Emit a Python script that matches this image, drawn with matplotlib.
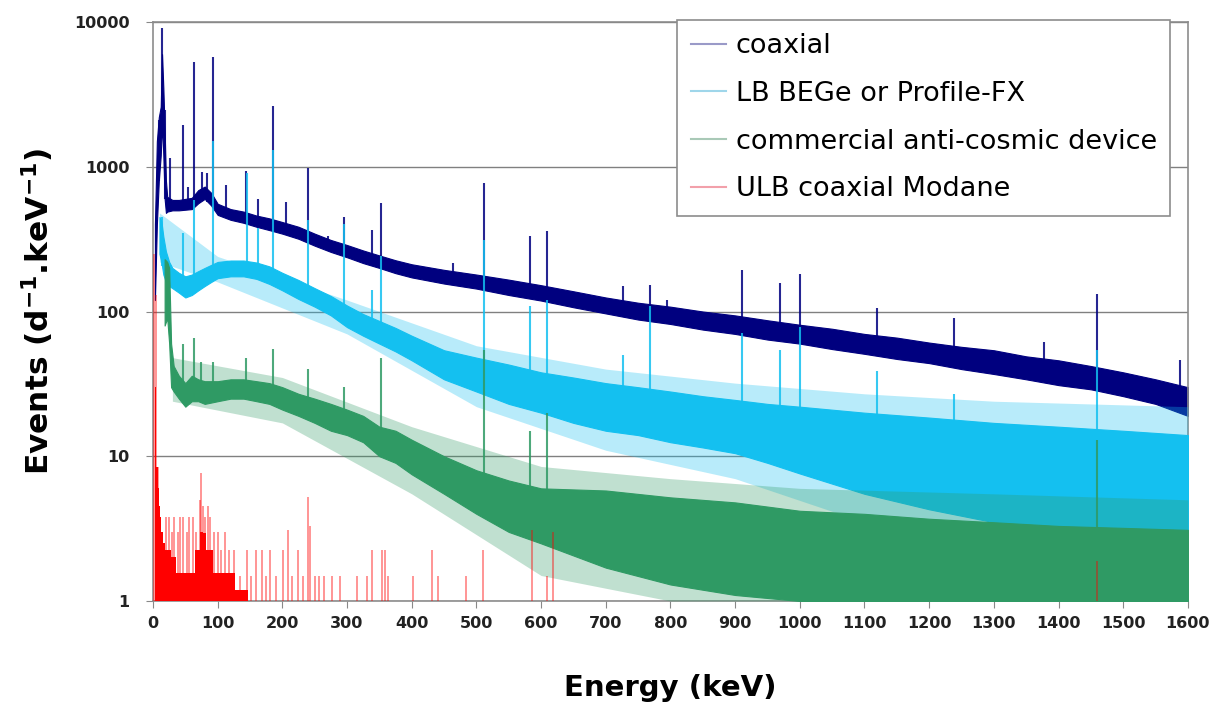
import matplotlib.pyplot as plt
import numpy as np
from matplotlib.lines import Line2D
from matplotlib.ticker import NullLocator

# ---- data (keV, events d^-1 keV^-1) ----
# coaxial: band envelope of the continuum + peak tops
coax_e = [3, 6, 9, 12, 14, 16, 18, 20, 22, 30, 40, 50, 60, 70, 80, 90, 100, 120, 140,
          160, 180, 200, 225, 250, 275, 300, 325, 350, 375, 400, 450, 500, 550, 600,
          650, 700, 750, 800, 850, 900, 950, 1000, 1050, 1100, 1150, 1200, 1250, 1300,
          1350, 1400, 1450, 1500, 1550, 1600]
coax_lo = [120, 400, 800, 1200, 2000, 1200, 600, 480, 490, 500, 500, 505, 510, 560, 600,
           540, 465, 430, 410, 385, 365, 345, 318, 285, 258, 237, 216, 200, 184, 172,
           156, 144, 130, 119, 107, 97, 88, 82, 75, 70, 64, 60, 55, 51, 47, 44, 40, 37,
           34, 31, 29, 26, 23, 19]
coax_hi = [400, 1500, 2200, 2600, 6000, 3500, 1800, 800, 620, 590, 590, 600, 610, 690,
           730, 660, 555, 510, 490, 460, 440, 415, 385, 345, 312, 288, 264, 244, 226,
           212, 194, 180, 166, 152, 138, 125, 115, 108, 100, 94, 87, 81, 76, 70, 66,
           61, 57, 54, 49, 46, 42, 38, 34, 30]
coax_pk_e = [9, 14, 18, 26, 46, 54, 63, 76, 84, 93, 113, 144, 163, 186, 205, 239, 270,
             295, 338, 352, 464, 511, 583, 609, 727, 768, 795, 911, 969, 1001, 1120,
             1238, 1377, 1460, 1588]
coax_pk_h = [2100, 9100, 2450, 1150, 1950, 720, 5300, 920, 900, 5700, 750, 930, 600,
             2640, 570, 980, 330, 450, 365, 560, 215, 770, 333, 360, 150, 152, 120,
             194, 158, 182, 106, 90, 62, 132, 46]

# LB BEGe or Profile-FX
lb_e = [10, 13, 16, 20, 25, 30, 40, 50, 60, 70, 80, 90, 100, 120, 140, 160, 180, 200,
        225, 250, 275, 300, 325, 350, 375, 400, 450, 500, 550, 600, 650, 700, 750, 800,
        850, 900, 950, 1000, 1100, 1200, 1300, 1400, 1500, 1600]
lb_lo = [250, 220, 180, 160, 150, 145, 135, 125, 130, 140, 150, 160, 170, 175, 175, 168,
         155, 140, 122, 108, 94, 78, 68, 60, 53, 46, 34, 28, 23, 20, 17, 15, 14, 12.5,
         11.5, 10.5, 9, 7.6, 5.5, 4.3, 3.5, 3.2, 3, 3]
lb_hi = [450, 420, 330, 260, 220, 200, 185, 175, 180, 190, 200, 210, 220, 225, 225, 218,
         205, 185, 165, 145, 128, 110, 96, 86, 77, 68, 54, 48, 43, 38, 35, 32, 30, 28,
         26, 24.5, 23, 22, 20, 18.5, 17, 16, 15, 14]
lb_faint_e = [10, 100, 300, 500, 700, 900, 1100, 1300, 1600]
lb_faint_lo = [220, 160, 70, 22, 11, 7, 3.5, 2.5, 2]
lb_faint_hi = [480, 240, 120, 58, 40, 32, 27, 24, 22]
lb_pk_e = [14, 46, 63, 93, 145, 163, 186, 239, 295, 339, 352, 511, 583, 609, 727, 768,
           911, 969, 1001, 1120, 1238, 1460]
lb_pk_h = [450, 350, 590, 1500, 900, 380, 1300, 430, 400, 140, 240, 310, 110, 120, 50,
           110, 71, 54, 78, 39, 27, 54]

# commercial anti-cosmic device
ac_e = [18, 22, 25, 28, 32, 40, 50, 60, 70, 80, 100, 120, 140, 160, 180, 200, 225, 250,
        275, 300, 325, 350, 375, 400, 450, 500, 550, 600, 700, 800, 900, 1000, 1100,
        1200, 1300, 1400, 1500, 1600]
ac_lo = [80, 90, 60, 30, 28, 25, 22, 24, 24, 23, 24, 25, 25, 24, 23, 21, 19, 17, 15, 14,
         12.5, 10, 9, 7.5, 5.5, 4, 3, 2.5, 1.7, 1.3, 1.1, 1, 1, 1, 1, 1, 1, 1]
ac_hi = [230, 220, 200, 60, 42, 36, 32, 36, 34, 33, 33, 34, 34, 33, 32, 30, 27, 25, 23,
         21, 19, 16, 15, 13, 10, 8, 6.8, 6, 5.8, 5.2, 4.8, 4.2, 4, 3.7, 3.5, 3.3, 3.2,
         3.1]
ac_faint_e = [30, 200, 400, 600, 800, 1000, 1300, 1600]
ac_faint_lo = [24, 17, 5.5, 1.5, 1, 1, 1, 1]
ac_faint_hi = [48, 35, 16, 8.5, 7, 6, 5.5, 5]
ac_pk_e = [46, 63, 75, 93, 144, 186, 240, 295, 352, 511, 583, 609, 1460]
ac_pk_h = [60, 66, 45, 45, 48, 55, 40, 30, 48, 54, 15, 20, 13]

# ULB coaxial Modane: low-energy body + single channels
ulb_e = [3, 6, 8, 10, 12, 14, 17, 20, 25, 31, 40, 50, 60, 70, 75, 80, 85, 90, 95, 100,
         110, 124, 130, 140, 155]
ulb_h = [30, 8.4, 6, 4.5, 3.8, 3.0, 2.5, 2.25, 2.25, 2.0, 1.56, 1.56, 1.56, 2.25, 3.0,
         2.95, 2.25, 2.25, 1.56, 1.56, 1.56, 1.56, 1.2, 1.2, 1.0]
ulb_ch_e = [2, 4, 7, 20, 24, 29, 33, 38, 42, 47, 52, 56, 62, 66, 72, 75, 78, 81, 85, 88,
            95, 100, 105, 112, 118, 125, 135, 145, 152, 160, 168, 175, 181, 190, 201,
            209, 215, 224, 232, 240, 242, 250, 256, 265, 277, 289, 315, 331, 338, 354,
            359, 364, 402, 431, 441, 484, 510, 586, 609, 619, 1460]
ulb_ch_h = [250, 130, 8.4, 3.8, 3.8, 3.0, 3.8, 3.0, 3.8, 3.8, 3.0, 3.8, 3.8, 3.0, 5.0,
            7.6, 4.5, 3.8, 4.5, 3.8, 3.0, 3.0, 2.25, 3.0, 2.25, 2.25, 1.5, 2.25, 1.5,
            2.25, 2.25, 1.5, 2.25, 1.5, 2.25, 3.1, 1.5, 2.25, 1.5, 5.2, 3.3, 1.5, 1.5,
            1.5, 1.5, 1.5, 1.5, 1.5, 2.25, 2.25, 2.25, 1.5, 1.5, 2.25, 1.5, 1.5, 2.25,
            3.1, 1.5, 3.0, 1.9]

labels = ["coaxial", "LB BEGe or Profile-FX", "commercial anti-cosmic device",
          "ULB coaxial Modane"]
xticks = list(range(0, 1601, 100))
yticks = [1, 10, 100, 1000, 10000]
ytick_labels = ["1", "10", "100", "1000", "10000"]

C_COAX = "#00007f"
C_LB = "#14c0f0"
C_AC = "#2f9a64"
C_ULB = "#ff0000"


def spectrum(ax, e, lo, hi, pk_e, pk_h, color, z):
    ax.fill_between(e, lo, hi, color=color, lw=0.8, edgecolor=color, zorder=z)
    base = np.exp(np.interp(pk_e, e, np.log(lo)))
    ax.vlines(pk_e, base, pk_h, color=color, lw=1.5, alpha=0.85, zorder=z)


fig = plt.figure(figsize=(12.19, 7.13), dpi=100)
ax = fig.add_axes([0.1255, 0.1571, 0.849, 0.812])
ax.set_yscale("log")

spectrum(ax, coax_e, coax_lo, coax_hi, coax_pk_e, coax_pk_h, C_COAX, 2)

ax.fill_between(lb_faint_e, lb_faint_lo, lb_faint_hi, color=C_LB, alpha=0.3, lw=0,
                zorder=2.9)
spectrum(ax, lb_e, lb_lo, lb_hi, lb_pk_e, lb_pk_h, C_LB, 3)

ax.fill_between(ac_faint_e, ac_faint_lo, ac_faint_hi, color=C_AC, alpha=0.3, lw=0,
                zorder=3.9)
spectrum(ax, ac_e, ac_lo, ac_hi, ac_pk_e, ac_pk_h, C_AC, 4)

ax.fill_between(ulb_e, 1, ulb_h, step="mid", color=C_ULB, lw=0, zorder=5)
ax.vlines(ulb_ch_e, 1, ulb_ch_h, color=C_ULB, lw=1.3, alpha=0.45, zorder=5)

# axes look
ax.set_xlim(0, 1600)
ax.set_ylim(1, 10000)
ax.set_xticks(xticks)
ax.set_yticks(yticks)
ax.set_yticklabels(ytick_labels)
ax.yaxis.set_minor_locator(NullLocator())
for t in ax.get_xticklabels() + ax.get_yticklabels():
    t.set_fontweight("bold")
ax.tick_params(axis="both", direction="out", length=5, color="#888888", labelsize=11.5,
               labelcolor="#222222")
ax.tick_params(axis="x", pad=6)
ax.tick_params(axis="y", pad=12)
for s in ax.spines.values():
    s.set_color("#8c8c8c")
    s.set_linewidth(1.2)
ax.yaxis.grid(True, color="#808080", lw=1, zorder=0.5)
ax.set_axisbelow(True)

ax.set_xlabel("Energy (keV)", fontsize=21, fontweight="bold", labelpad=31)
ax.set_ylabel(r"Events (d$^{\mathbf{-1}}$.keV$^{\mathbf{-1}}$)", fontsize=22.5,
              fontweight="bold", labelpad=13)

handles = [Line2D([], [], color=c, lw=1.5) for c in
           ["#9a9ac8", "#9fd6ea", "#a9c9b7", "#f2a0aa"]]
leg = ax.legend(handles, labels, loc="upper right", bbox_to_anchor=(0.983, 1.004),
                borderaxespad=0, fontsize=19.5, frameon=True, fancybox=False,
                handlelength=1.3, handletextpad=0.35, labelspacing=0.8,
                borderpad=0.5, framealpha=1)
leg.get_frame().set_edgecolor("#8c8c8c")
leg.get_frame().set_linewidth(1.2)
leg.set_zorder(10)

fig.savefig("out.png", dpi=100)
